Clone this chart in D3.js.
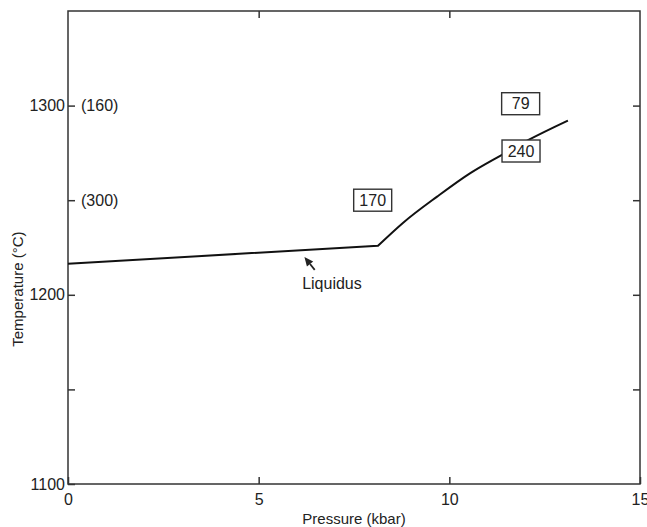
<!DOCTYPE html>
<html>
<head>
<meta charset="utf-8">
<script src="https://cdn.jsdelivr.net/npm/d3@7/dist/d3.min.js"></script>
<style>
  html, body { margin: 0; padding: 0; background: #fff; }
  svg text { font-family: "Liberation Sans", Arial, Helvetica, sans-serif; fill: #222; }
</style>
</head>
<body>
<svg id="chart" width="647" height="527"></svg>
<script>
// ---- data ----
const pressure = [0, 8.13, 8.79, 9.68, 10.54, 11.38, 12.09, 13.11];
const temperature = [1216.4, 1225.9, 1238.1, 1251.9, 1264.2, 1274.0, 1282.0, 1292.1];
const kinkIndex = 1;

const boxLabels = ["170", "79", "240"];
const boxPressure = [7.99, 11.87, 11.88];
const boxTemperature = [1250, 1301, 1276];

const sideLabels = ["(160)", "(300)"];
const sideTemperature = [1300, 1250];

const xTicks = [0, 5, 10, 15];
const xTickLabels = ["0", "5", "10", "15"];
const yTicks = [1100, 1150, 1200, 1250, 1300];
const yTickLabels = ["1100", "", "1200", "", "1300"];

const liquidusLabel = "Liquidus";
const xTitle = "Pressure (kbar)";
const yTitle = "Temperature (\u00B0C)";

// ---- scales ----
const x = d3.scaleLinear().domain([0, 15]).range([68, 640]);
const y = d3.scaleLinear().domain([1100, 1350]).range([484, 11]);

const svg = d3.select("#chart");
const ink = "#222";

// frame
svg.append("rect")
  .attr("x", x(0)).attr("y", y(1350))
  .attr("width", x(15) - x(0)).attr("height", y(1100) - y(1350))
  .attr("fill", "none").attr("stroke", "#333").attr("stroke-width", 1.5);

// axes
function styleAxis(g) {
  g.select(".domain").remove();
  g.selectAll(".tick line").attr("stroke", "#333").attr("stroke-width", 1.5);
  g.selectAll(".tick text").style("font-size", "16px").attr("fill", ink);
}

svg.append("g").attr("transform", `translate(${x(0)},0)`)
  .call(d3.axisLeft(y).tickValues(yTicks).tickSize(-7).tickPadding(3)
    .tickFormat((d, i) => yTickLabels[i]))
  .call(styleAxis);

svg.append("g").attr("transform", `translate(${x(15)},0)`)
  .call(d3.axisRight(y).tickValues(yTicks.filter(v => v > 1100)).tickSize(-7).tickFormat(""))
  .call(styleAxis);

svg.append("g").attr("transform", `translate(0,${y(1100)})`)
  .call(d3.axisBottom(x).tickValues(xTicks).tickSize(-7).tickPadding(10)
    .tickFormat((d, i) => xTickLabels[i]))
  .call(styleAxis);

svg.append("g").attr("transform", `translate(0,${y(1350)})`)
  .call(d3.axisTop(x).tickValues([5, 10]).tickSize(-7).tickFormat(""))
  .call(styleAxis);

// liquidus line: straight low-pressure segment, smooth high-pressure segment
const pts = pressure.map((p, i) => [p, temperature[i]]);
const lowPts = pts.slice(0, kinkIndex + 1);
const highPts = pts.slice(kinkIndex);
const lineLin = d3.line().x(d => x(d[0])).y(d => y(d[1]));
const lineSmooth = d3.line().curve(d3.curveMonotoneX).x(d => x(d[0])).y(d => y(d[1]));
svg.append("path")
  .attr("fill", "none").attr("stroke", "#111").attr("stroke-width", 2)
  .attr("stroke-linejoin", "round")
  .attr("d", lineLin(lowPts) + lineSmooth(highPts).replace(/^M/, "L"));

// boxed labels
boxLabels.forEach((lab, i) => {
  const cx = x(boxPressure[i]), cy = y(boxTemperature[i]);
  const w = 38, h = 22;
  svg.append("rect")
    .attr("x", cx - w / 2).attr("y", cy - h / 2).attr("width", w).attr("height", h)
    .attr("fill", "#fff").attr("stroke", "#333").attr("stroke-width", 1.4);
  svg.append("text")
    .attr("x", cx).attr("y", cy).attr("dy", "0.36em")
    .attr("text-anchor", "middle").style("font-size", "16px")
    .text(lab);
});

// side labels
sideLabels.forEach((lab, i) => {
  svg.append("text")
    .attr("x", x(0) + 13).attr("y", y(sideTemperature[i])).attr("dy", "0.36em")
    .style("font-size", "16px").text(lab);
});

// Liquidus label + arrow
const arrowTip = [x(6.2), y(1220.0)];
const arrowTail = [x(6.47), y(1213.2)];
{
  const ang = Math.atan2(arrowTip[1] - arrowTail[1], arrowTip[0] - arrowTail[0]);
  const L = 9, W = 4;
  const bx = arrowTip[0] - L * Math.cos(ang), by = arrowTip[1] - L * Math.sin(ang);
  const nx = -Math.sin(ang), ny = Math.cos(ang);
  svg.append("line")
    .attr("x1", arrowTail[0]).attr("y1", arrowTail[1])
    .attr("x2", bx).attr("y2", by)
    .attr("stroke", "#222").attr("stroke-width", 1.8);
  svg.append("path")
    .attr("d", `M${arrowTip[0]},${arrowTip[1]}L${bx + W * nx},${by + W * ny}L${bx - W * nx},${by - W * ny}Z`)
    .attr("fill", "#222");
}
svg.append("text")
  .attr("x", x(6.14)).attr("y", y(1203.1))
  .style("font-size", "16px").text(liquidusLabel);

// axis titles
svg.append("text")
  .attr("x", (x(0) + x(15)) / 2).attr("y", 524)
  .attr("text-anchor", "middle").style("font-size", "15px").text(xTitle);
svg.append("text")
  .attr("transform", `translate(23,${y(1203)}) rotate(-90)`)
  .attr("text-anchor", "middle").style("font-size", "15px").text(yTitle);
</script>
</body>
</html>
